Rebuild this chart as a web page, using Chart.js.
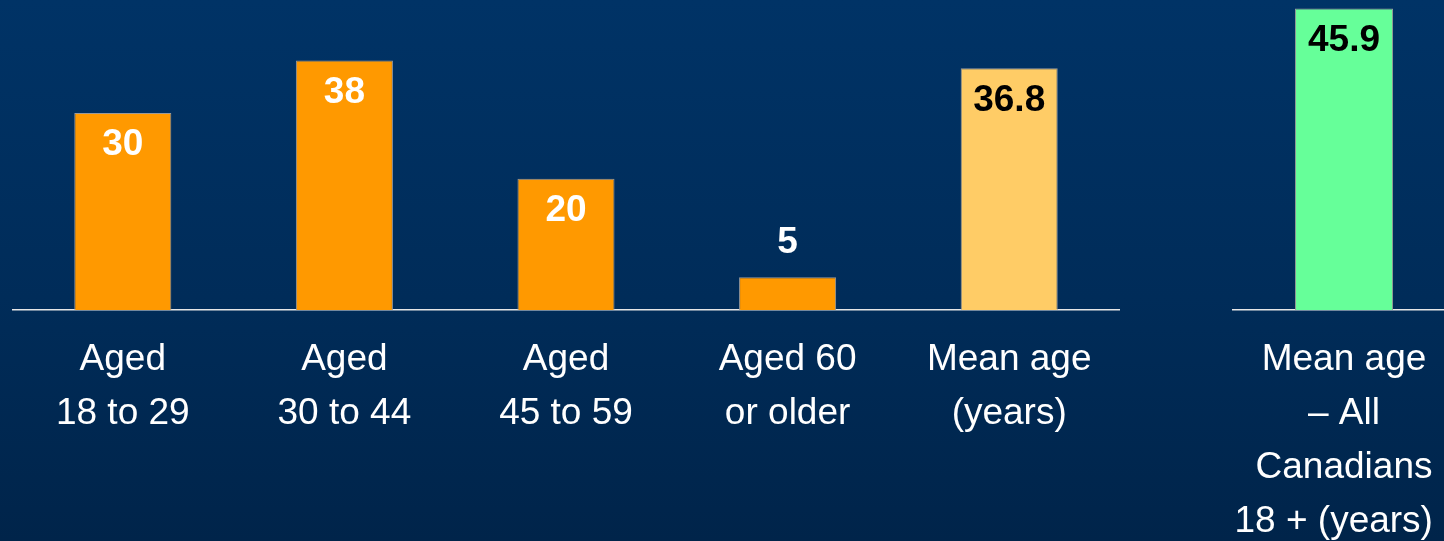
<!DOCTYPE html>
<html>
<head>
<meta charset="utf-8">
<script src="https://cdn.jsdelivr.net/npm/chart.js@4"></script>
<style>
  html, body { margin: 0; padding: 0; width: 1444px; height: 541px; overflow: hidden; }
  body { background: linear-gradient(to bottom, #003366 0%, #002c59 55%, #00244a 100%); position: relative; }
  canvas { position: absolute; top: 0; }
  #left { left: 12px; }
  #right { left: 1232px; }
</style>
</head>
<body>
<canvas id="left" width="1108" height="541"></canvas>
<canvas id="right" width="224" height="541"></canvas>
<script>
// ---- data ----
const leftCategories = [
  ["Aged", "18 to 29"],
  ["Aged", "30 to 44"],
  ["Aged", "45 to 59"],
  ["Aged 60", "or older"],
  ["Mean age", "(years)"]
];
const leftValues = [30, 38, 20, 5, 36.8];

const rightCategories = [
  ["Mean age", "\u2013 All", "Canadians", "18 + (years)  "]
];
const rightValues = [45.9];

// ---- styles ----
const leftColors = ["#FF9900", "#FF9900", "#FF9900", "#FF9900", "#FFCC66"];
const leftLabelColors = ["#FFFFFF", "#FFFFFF", "#FFFFFF", "#FFFFFF", "#000000"];
const rightColors = ["#66FF99"];
const rightLabelColors = ["#000000"];

const FONT = "'Liberation Sans', Arial, sans-serif";
const Y_MAX = 47.2;
const AXIS_HEIGHT = 231;

const valueLabelPlugin = {
  id: "valueLabels",
  afterDatasetsDraw(chart, args, opts) {
    const ctx = chart.ctx;
    const meta = chart.getDatasetMeta(0);
    const data = chart.data.datasets[0].data;
    ctx.save();
    ctx.font = "bold 37px " + FONT;
    ctx.textAlign = "center";
    ctx.textBaseline = "middle";
    meta.data.forEach((bar, i) => {
      const h = bar.base - bar.y;
      let y, color;
      if (h < 60) {
        y = bar.y - 34;
        color = "#FFFFFF";
      } else {
        y = bar.y + 32;
        color = opts.colors[i];
      }
      ctx.fillStyle = color;
      ctx.fillText(String(data[i]), bar.x, y);
    });
    ctx.restore();
  }
};

function makeChart(id, labels, values, colors, labelColors) {
  return new Chart(document.getElementById(id), {
    type: "bar",
    data: {
      labels: labels,
      datasets: [{
        data: values,
        backgroundColor: colors,
        borderColor: "#9a9a9a",
        borderWidth: 1,
        borderSkipped: "bottom",
        categoryPercentage: 1.0,
        barPercentage: 0.438
      }]
    },
    options: {
      responsive: false,
      animation: false,
      devicePixelRatio: 1,
      layout: { padding: 0 },
      plugins: {
        legend: { display: false },
        tooltip: { enabled: false },
        valueLabels: { colors: labelColors }
      },
      scales: {
        x: {
          grid: { display: false, drawTicks: false },
          border: { display: true, color: "#e6e6e6", width: 1.5 },
          ticks: {
            color: "#FFFFFF",
            font: { family: FONT, size: 37, lineHeight: 1.46 },
            padding: 23,
            maxRotation: 0,
            minRotation: 0,
            autoSkip: false
          },
          afterFit(scale) {
            scale.height = AXIS_HEIGHT;
            scale.paddingLeft = 0;
            scale.paddingRight = 0;
          }
        },
        y: {
          display: false,
          min: 0,
          max: Y_MAX
        }
      }
    },
    plugins: [valueLabelPlugin]
  });
}

makeChart("left", leftCategories, leftValues, leftColors, leftLabelColors);
makeChart("right", rightCategories, rightValues, rightColors, rightLabelColors);
</script>
</body>
</html>
